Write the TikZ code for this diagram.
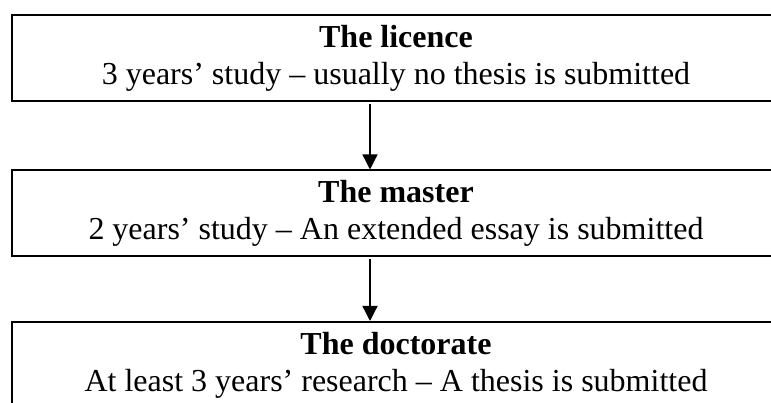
\documentclass[tikz,border=0pt]{standalone}
\usepackage{fontspec}
\setmainfont{Liberation Serif}
\usetikzlibrary{arrows.meta}

\begin{document}
\begin{tikzpicture}[
    x=1pt, y=1pt,
    stage/.style={draw=black, line width=2pt, minimum width=768pt, minimum height=86pt, inner sep=0pt, align=center, font=\fontsize{32}{37}\selectfont},
    link/.style={line width=1.3pt, draw=black, -{Triangle[width=15pt, length=15pt]}}
]

    % ==================== CANVAS ====================
    \useasboundingbox (0, 0) rectangle (771, 403);
    \clip (0, 0) rectangle (771, 403);

    % ==================== STAGES ====================
    \node[stage] (licence) at (396, 345) {\textbf{The licence}\\3 years’ study – usually no thesis is submitted};
    \node[stage] (master) at (396, 189.5) {\textbf{The master}\\2 years’ study – An extended essay is submitted};
    \node[stage] (doctorate) at (396, 38) {\textbf{The doctorate}\\At least 3 years’ research – A thesis is submitted};

    % ==================== ARROWS ====================
    \draw[link] ([xshift=-26pt, yshift=-2pt]licence.south) -- ([xshift=-26pt]master.north);
    \draw[link] ([xshift=-26pt, yshift=-2pt]master.south) -- ([xshift=-26pt]doctorate.north);

\end{tikzpicture}
\end{document}
